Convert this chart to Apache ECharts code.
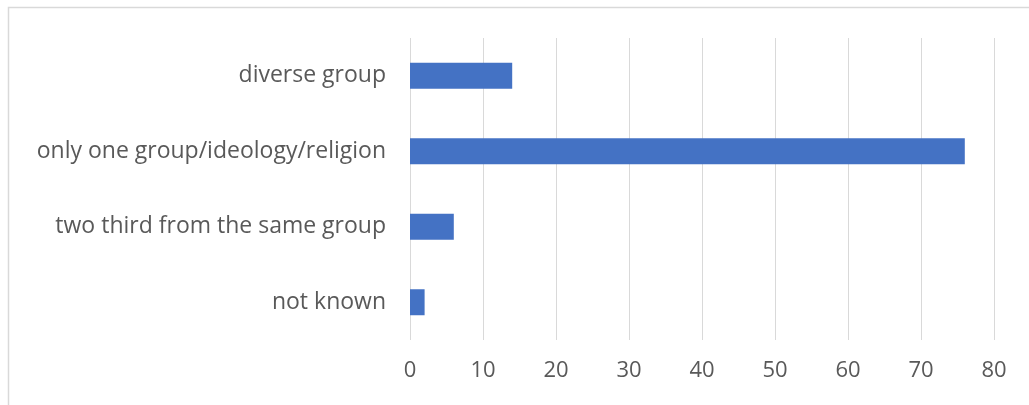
<!DOCTYPE html>
<html>
<head>
<meta charset="utf-8">
<script src="https://cdn.jsdelivr.net/npm/echarts@6/dist/echarts.min.js"></script>
<style>
  html, body { margin: 0; padding: 0; background: #fff; }
  #chart { width: 1029px; height: 405px; }
</style>
</head>
<body>
<div id="chart"></div>
<script>
var categories = ['diverse group', 'only one group/ideology/religion', 'two third from the same group', 'not known']
var values = [14, 76, 6, 2]
var xTicks = { min: 0, max: 80, interval: 10 }

var chart = echarts.init(document.getElementById('chart'))
chart.setOption({
  animation: false,
  textStyle: { fontFamily: 'Open Sans' },
  // outer chart frame, right and bottom edges fall outside the picture
  graphic: [{
    type: 'rect',
    shape: { x: 8.5, y: 7.5, width: 1040, height: 420 },
    style: { fill: 'none', stroke: '#d9d9d9', lineWidth: 1.5 },
    silent: true
  }],
  grid: { left: 410, right: 35, top: 38, bottom: 65 },
  xAxis: {
    type: 'value',
    min: xTicks.min,
    max: xTicks.max,
    interval: xTicks.interval,
    axisLine: { show: false },
    axisTick: { show: false },
    axisLabel: { color: '#595959', fontSize: 22, margin: 20 },
    splitLine: { show: true, lineStyle: { color: '#d9d9d9', width: 1 } }
  },
  yAxis: {
    type: 'category',
    inverse: true,
    data: categories,
    axisLine: { show: false },
    axisTick: { show: false },
    axisLabel: { color: '#595959', fontSize: 23, margin: 24 }
  },
  series: [{
    type: 'bar',
    data: values,
    barWidth: 26,
    itemStyle: { color: '#4472c4' }
  }]
})
</script>
</body>
</html>
